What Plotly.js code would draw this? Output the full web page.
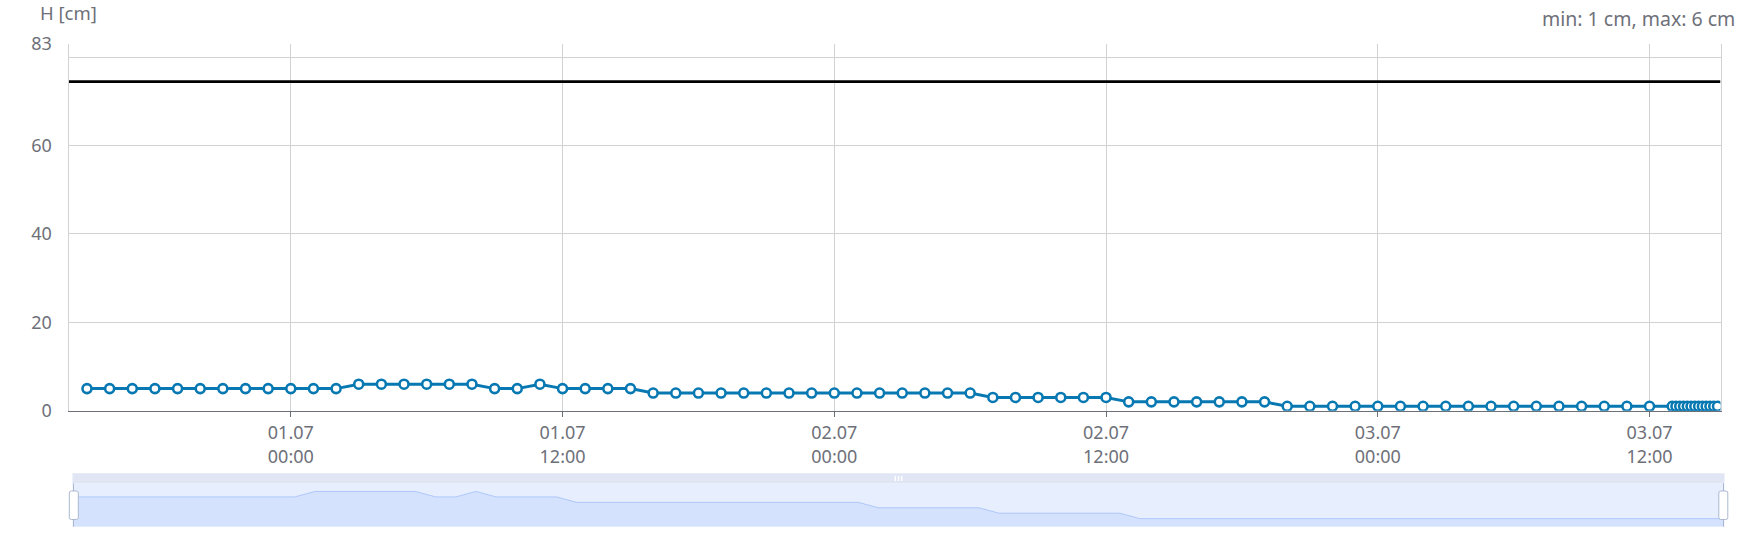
<!DOCTYPE html>
<html>
<head>
<meta charset="utf-8">
<script src="https://cdn.plot.ly/plotly-3.0.1.min.js"></script>
<style>
  html, body { margin: 0; padding: 0; background: #fff; }
  #chart { width: 1740px; height: 556px; }
</style>
</head>
<body>
<div id="chart"></div>
<script>
// ---------------- DATA ----------------
const times = [
  '2024-06-30 15:00','2024-06-30 16:00','2024-06-30 17:00','2024-06-30 18:00','2024-06-30 19:00',
  '2024-06-30 20:00','2024-06-30 21:00','2024-06-30 22:00','2024-06-30 23:00',
  '2024-07-01 00:00','2024-07-01 01:00','2024-07-01 02:00','2024-07-01 03:00','2024-07-01 04:00',
  '2024-07-01 05:00','2024-07-01 06:00','2024-07-01 07:00','2024-07-01 08:00','2024-07-01 09:00',
  '2024-07-01 10:00','2024-07-01 11:00','2024-07-01 12:00','2024-07-01 13:00','2024-07-01 14:00',
  '2024-07-01 15:00','2024-07-01 16:00','2024-07-01 17:00','2024-07-01 18:00','2024-07-01 19:00',
  '2024-07-01 20:00','2024-07-01 21:00','2024-07-01 22:00','2024-07-01 23:00',
  '2024-07-02 00:00','2024-07-02 01:00','2024-07-02 02:00','2024-07-02 03:00','2024-07-02 04:00',
  '2024-07-02 05:00','2024-07-02 06:00','2024-07-02 07:00','2024-07-02 08:00','2024-07-02 09:00',
  '2024-07-02 10:00','2024-07-02 11:00','2024-07-02 12:00','2024-07-02 13:00','2024-07-02 14:00',
  '2024-07-02 15:00','2024-07-02 16:00','2024-07-02 17:00','2024-07-02 18:00','2024-07-02 19:00',
  '2024-07-02 20:00','2024-07-02 21:00','2024-07-02 22:00','2024-07-02 23:00',
  '2024-07-03 00:00','2024-07-03 01:00','2024-07-03 02:00','2024-07-03 03:00','2024-07-03 04:00',
  '2024-07-03 05:00','2024-07-03 06:00','2024-07-03 07:00','2024-07-03 08:00','2024-07-03 09:00',
  '2024-07-03 10:00','2024-07-03 11:00','2024-07-03 12:00','2024-07-03 13:00',
  '2024-07-03 13:10','2024-07-03 13:20','2024-07-03 13:30','2024-07-03 13:40','2024-07-03 13:50',
  '2024-07-03 14:00','2024-07-03 14:10','2024-07-03 14:20','2024-07-03 14:30','2024-07-03 14:40',
  '2024-07-03 14:50','2024-07-03 15:00'
];
const levelH = [
  5,5,5,5,5, 5,5,5,5,
  5,5,5,6,6, 6,6,6,6,5, 5,6,5,5,5, 5,4,4,4,4, 4,4,4,4,
  4,4,4,4,4, 4,4,3,3,3, 3,3,3,2,2, 2,2,2,2,2, 1,1,1,1,
  1,1,1,1,1, 1,1,1,1,1, 1,1,1,1,
  1,1,1,1,1, 1,1,1,1,1, 1,1
];
const thresholdH = 74.5;
const xRange = ['2024-06-30 14:11', '2024-07-03 15:08'];
const yTickVals = [0, 20, 40, 60, 80, 83];
const yTickText = ['0', '20', '40', '60', '', '83'];
const xTickVals = ['2024-07-01 00:00','2024-07-01 12:00','2024-07-02 00:00','2024-07-02 12:00','2024-07-03 00:00','2024-07-03 12:00'];
const xTickText = ['01.07<br>00:00','01.07<br>12:00','02.07<br>00:00','02.07<br>12:00','03.07<br>00:00','03.07<br>12:00'];
const yName = 'H [cm]';
const unit = 'cm';

// ---------------- LAYOUT HELPERS ----------------
const W = 1740, H = 556, L = 60, R = 10, T = 44, B = 29;
const pw = W - L - R, ph = H - T - B;
const px = x => (x - L) / pw;
const py = y => (H - B - y) / ph;

const FONT = 'Noto Sans, Open Sans, sans-serif';
const GRAY = '#6e7079';
const LINE = '#0778b1';

const shadowIdx = levelH.map((_, i) => i);
const vMin = Math.min(...levelH), vMax = Math.max(...levelH);
const pad = (vMax - vMin) * 0.3;

const traces = [
  { // threshold
    x: xRange, y: [thresholdH, thresholdH], xaxis: 'x', yaxis: 'y',
    mode: 'lines', line: { color: '#000', width: 2.8 }, hoverinfo: 'skip', showlegend: false
  },
  { // main series
    x: times, y: levelH, xaxis: 'x', yaxis: 'y',
    mode: 'lines+markers',
    line: { color: LINE, width: 3 },
    marker: { symbol: 'circle', size: 9, color: '#fff', line: { color: LINE, width: 2.6 } },
    showlegend: false
  },
  { // slider shadow base
    x: [shadowIdx[0], shadowIdx[shadowIdx.length - 1]], y: [vMin - pad, vMin - pad],
    xaxis: 'x2', yaxis: 'y2', mode: 'lines', line: { width: 0, color: 'rgba(0,0,0,0)' },
    showlegend: false, hoverinfo: 'skip'
  },
  { // slider shadow
    x: shadowIdx, y: levelH, xaxis: 'x2', yaxis: 'y2', mode: 'lines',
    fill: 'tonexty', fillcolor: 'rgba(143,176,247,0.2)',
    line: { color: 'rgba(143,176,247,0.6)', width: 1 },
    showlegend: false, hoverinfo: 'skip'
  }
];

function rrect(x0, y0, x1, y1, r) {
  const X = v => px(v), Y = v => py(v);
  return `M${X(x0 + r)},${Y(y0)} L${X(x1 - r)},${Y(y0)} Q${X(x1)},${Y(y0)} ${X(x1)},${Y(y0 + r)} ` +
         `L${X(x1)},${Y(y1 - r)} Q${X(x1)},${Y(y1)} ${X(x1 - r)},${Y(y1)} L${X(x0 + r)},${Y(y1)} ` +
         `Q${X(x0)},${Y(y1)} ${X(x0)},${Y(y1 - r)} L${X(x0)},${Y(y0 + r)} Q${X(x0)},${Y(y0)} ${X(x0 + r)},${Y(y0)} Z`;
}

const sL = 72.5, sR = 1724.5, sTop = 473.3, sMid = 483.3, sBot = 526.8;
const shapes = [
  { type: 'rect', xref: 'paper', yref: 'paper', layer: 'below',
    x0: px(sL), x1: px(sR), y0: py(sBot), y1: py(sMid),
    fillcolor: 'rgb(231,239,255)', line: { width: 0 } },
  { type: 'rect', xref: 'paper', yref: 'paper', layer: 'below',
    x0: px(sL), x1: px(sR), y0: py(sMid), y1: py(sTop),
    fillcolor: '#e0e6f3', line: { width: 0 } },
  ...[895.3, 898.5, 901.7].map(gx => ({ type: 'rect', xref: 'paper', yref: 'paper', layer: 'above',
    x0: px(gx - 0.7), x1: px(gx + 0.7), y0: py(481), y1: py(476),
    fillcolor: '#ffffff', line: { width: 0 } })),
  { type: 'line', xref: 'paper', yref: 'paper', layer: 'above',
    x0: px(73.5), x1: px(73.5), y0: py(sBot), y1: py(sMid), line: { color: '#acb8d1', width: 1 } },
  { type: 'line', xref: 'paper', yref: 'paper', layer: 'above',
    x0: px(1723.5), x1: px(1723.5), y0: py(sBot), y1: py(sMid), line: { color: '#acb8d1', width: 1 } },
  { type: 'path', xref: 'paper', yref: 'paper', layer: 'above',
    path: rrect(69.3, 491, 78.3, 519.5, 2), fillcolor: '#ffffff', line: { color: '#acb8d1', width: 1 } },
  { type: 'path', xref: 'paper', yref: 'paper', layer: 'above',
    path: rrect(1718.8, 491, 1727.8, 519.5, 2), fillcolor: '#ffffff', line: { color: '#acb8d1', width: 1 } }
];

const layout = {
  width: W, height: H,
  margin: { l: L, r: R, t: T, b: B, pad: 0 },
  paper_bgcolor: '#fff', plot_bgcolor: 'rgba(0,0,0,0)',
  font: { family: FONT, size: 18, color: GRAY },
  showlegend: false,
  xaxis: {
    type: 'date', domain: [px(68.5), px(1720.5)], anchor: 'y',
    range: xRange, tickvals: xTickVals, ticktext: xTickText,
    showgrid: true, gridcolor: '#d2d2d2', gridwidth: 1,
    showline: true, linecolor: GRAY, linewidth: 1,
    ticks: 'outside', ticklen: 5, tickcolor: GRAY, tickwidth: 1,
    ticklabelstandoff: 1,
    tickfont: { family: FONT, size: 18, color: GRAY },
    zeroline: false, fixedrange: true
  },
  yaxis: {
    domain: [py(410.7), 1], anchor: 'x',
    range: [0, 83], tickvals: yTickVals, ticktext: yTickText,
    showgrid: true, gridcolor: '#d2d2d2', gridwidth: 1,
    showline: true, mirror: true, linecolor: '#d2d2d2', linewidth: 1,
    ticks: '', ticklabelstandoff: 12,
    tickfont: { family: FONT, size: 18, color: GRAY },
    zeroline: false, fixedrange: true
  },
  xaxis2: {
    domain: [px(73.5), px(1723.5)], anchor: 'y2',
    range: [shadowIdx[0], shadowIdx[shadowIdx.length - 1]],
    showgrid: false, showticklabels: false, ticks: '', zeroline: false, showline: false, fixedrange: true
  },
  yaxis2: {
    domain: [py(sBot), py(sMid)], anchor: 'x2',
    range: [vMin - pad, vMax + pad],
    showgrid: false, showticklabels: false, ticks: '', zeroline: false, showline: false, fixedrange: true
  },
  shapes: shapes,
  annotations: [
    { text: yName, xref: 'paper', yref: 'paper', x: px(68.5), y: py(12.5),
      xanchor: 'center', yanchor: 'middle', showarrow: false, borderpad: 0,
      font: { family: FONT, size: 18.5, color: GRAY } },
    { text: `min: ${vMin} ${unit}, max: ${vMax} ${unit}`, xref: 'paper', yref: 'paper',
      x: px(1737), y: py(18.5), xanchor: 'right', yanchor: 'middle', showarrow: false,
      font: { family: FONT, size: 19.5, color: GRAY } }
  ]
};

Plotly.newPlot('chart', traces, layout, { staticPlot: true, displayModeBar: false });
</script>
</body>
</html>
